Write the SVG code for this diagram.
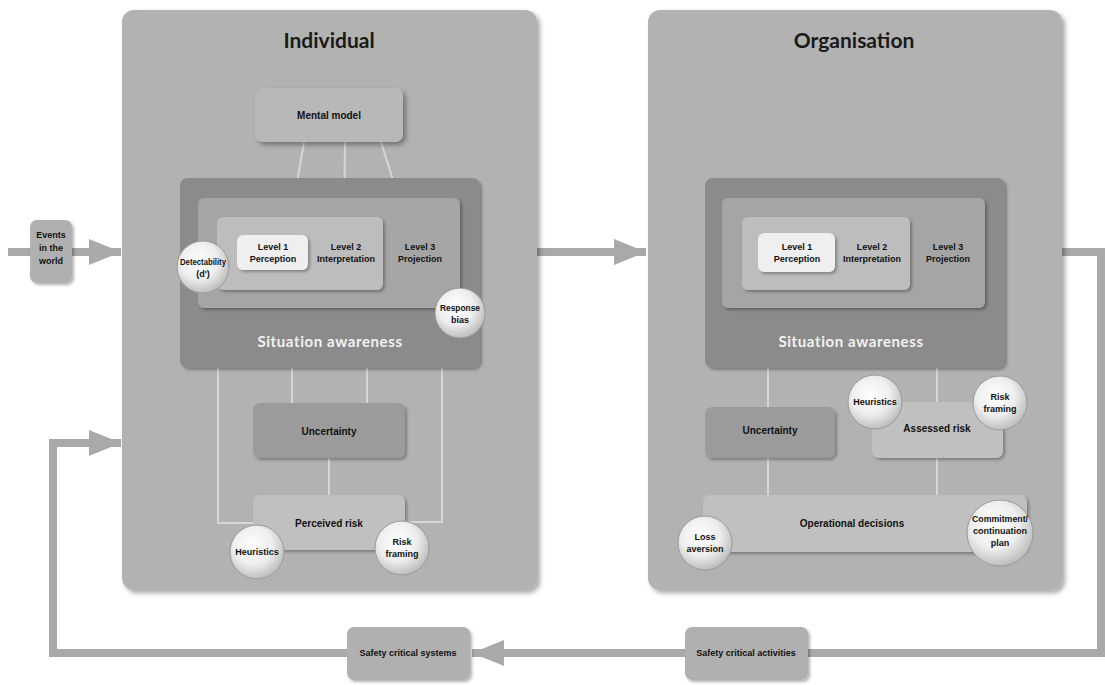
<svg xmlns="http://www.w3.org/2000/svg" width="1105" height="685" viewBox="0 0 1105 685">
  <style>
    .panel { fill: #b2b2b2; }
    .sa { fill: #8b8b8b; }
    .l3 { fill: #a5a5a5; }
    .l2 { fill: #bdbdbd; }
    .l1 { fill: #efefef; }
    .dark { fill: #9b9b9b; }
    .light { fill: #c0c0c0; }
    .box { fill: #b0b0b0; }
    .title { font-family: "Lato", "DejaVu Sans", sans-serif; font-weight: bold; font-size: 21px; fill: #1a1a1a; text-anchor: middle; }
    .salabel { font-family: "Lato", "DejaVu Sans", sans-serif; font-weight: bold; font-size: 15px; fill: #f2f2f2; text-anchor: middle; letter-spacing: 0.6px; }
    .lbl { font-family: "Liberation Sans Narrow", "Liberation Sans", sans-serif; font-weight: bold; font-size: 10px; fill: #111; text-anchor: middle; }
    .sm { font-family: "Liberation Sans Narrow", "Liberation Sans", sans-serif; font-weight: bold; font-size: 9px; fill: #111; text-anchor: middle; }
    .thin { stroke: #d6d6d6; stroke-width: 2; fill: none; }
    .flow { stroke: #a9a9a9; stroke-width: 8; fill: none; }
    .ball { fill: url(#sphere); stroke: #9a9a9a; stroke-width: 1; }
  </style>
  <defs>
    <filter id="shadow" x="-10%" y="-10%" width="125%" height="125%">
      <feDropShadow dx="3" dy="3" stdDeviation="2.5" flood-color="#000" flood-opacity="0.35"/>
    </filter>
    <filter id="softshadow" x="-10%" y="-10%" width="125%" height="130%">
      <feDropShadow dx="2" dy="2" stdDeviation="1.5" flood-color="#000" flood-opacity="0.3"/>
    </filter>
    <radialGradient id="sphere" cx="0.42" cy="0.38" r="0.65">
      <stop offset="0" stop-color="#ffffff"/>
      <stop offset="0.55" stop-color="#eeeeee"/>
      <stop offset="1" stop-color="#b9b9b9"/>
    </radialGradient>
    <marker id="head" markerUnits="userSpaceOnUse" markerWidth="34" markerHeight="28" refX="32" refY="13" orient="auto">
      <path d="M0,0 L32,13 L0,26 Z" fill="#a9a9a9"/>
    </marker>
  </defs>

  <rect width="1105" height="685" fill="#ffffff"/>

  <!-- main flow connectors -->
  <g id="connectors">
    <line class="flow" x1="8" y1="252" x2="121" y2="252" marker-end="url(#head)"/>
    <line class="flow" x1="537" y1="252" x2="646" y2="252" marker-end="url(#head)"/>
    <polyline class="flow" points="1062,252 1101,252 1101,653 808,653"/>
    <line class="flow" x1="686" y1="653" x2="472" y2="653" marker-end="url(#head)"/>
    <polyline class="flow" points="348,653 53,653 53,443 121,443" marker-end="url(#head)"/>
  </g>

  <!-- Individual panel -->
  <g id="individual">
    <rect class="panel" x="122" y="10" width="415" height="580" rx="12" filter="url(#shadow)"/>
    <text class="title" x="329" y="48">Individual</text>
  </g>

  <!-- Organisation panel -->
  <g id="organisation">
    <rect class="panel" x="648" y="10" width="414" height="580" rx="12" filter="url(#shadow)"/>
    <text class="title" x="854" y="48">Organisation</text>
  </g>

  <!-- links inside the Individual panel -->
  <g id="individual-links">
    <line class="thin" x1="304" y1="142" x2="288" y2="235"/>
    <line class="thin" x1="345" y1="142" x2="344" y2="230"/>
    <line class="thin" x1="381" y1="142" x2="411" y2="237"/>
    <polyline class="thin" points="218,367 218,523 255,523"/>
    <line class="thin" x1="292" y1="367" x2="292" y2="403"/>
    <line class="thin" x1="367" y1="367" x2="367" y2="403"/>
    <polyline class="thin" points="442,367 442,522 405,522"/>
    <line class="thin" x1="329" y1="458" x2="329" y2="495"/>
  </g>

  <!-- links inside the Organisation panel -->
  <g id="organisation-links">
    <line class="thin" x1="768" y1="367" x2="768" y2="495"/>
    <line class="thin" x1="937" y1="367" x2="937" y2="495"/>
  </g>

  <g id="mental-model">
    <rect x="255" y="88" width="148" height="54" rx="8" fill="#b8b8b8" filter="url(#shadow)"/>
    <text class="lbl" x="329" y="119">Mental model</text>
  </g>

  <!-- Individual situation awareness -->
  <g id="ind-sa">
    <rect class="sa" x="180" y="178" width="300" height="190" rx="8" filter="url(#softshadow)"/>
    <rect class="l3" x="198" y="198" width="262" height="110" rx="6" filter="url(#softshadow)"/>
    <rect class="l2" x="217" y="217" width="166" height="73" rx="6" filter="url(#softshadow)"/>
    <text class="salabel" x="330" y="347">Situation awareness</text>
  </g>
  <g id="ind-level1">
    <rect class="l1" x="237" y="235" width="71" height="35" rx="6" filter="url(#softshadow)"/>
    <text class="sm" x="273" y="250">Level 1</text>
    <text class="sm" x="273" y="262">Perception</text>
  </g>
  <g id="ind-level2">
    <text class="sm" x="346" y="250">Level 2</text>
    <text class="sm" x="346" y="262">Interpretation</text>
  </g>
  <g id="ind-level3">
    <text class="sm" x="420" y="250">Level 3</text>
    <text class="sm" x="420" y="262">Projection</text>
  </g>
  <g id="detectability">
    <circle class="ball" cx="203" cy="267" r="26"/>
    <text class="sm" x="203" y="265" textLength="46" lengthAdjust="spacingAndGlyphs">Detectability</text>
    <text class="sm" x="203" y="277">(d')</text>
  </g>
  <g id="response-bias">
    <circle class="ball" cx="460" cy="313" r="25"/>
    <text class="sm" x="460" y="311" textLength="40" lengthAdjust="spacingAndGlyphs">Response</text>
    <text class="sm" x="460" y="323">bias</text>
  </g>

  <g id="ind-uncertainty">
    <rect class="dark" x="253" y="403" width="152" height="55" rx="7" filter="url(#softshadow)"/>
    <text class="lbl" x="329" y="435">Uncertainty</text>
  </g>
  <g id="perceived-risk">
    <rect class="light" x="253" y="495" width="152" height="55" rx="7" filter="url(#softshadow)"/>
    <text class="lbl" x="329" y="527">Perceived risk</text>
  </g>
  <g id="ind-heuristics">
    <circle class="ball" cx="257" cy="552" r="27"/>
    <text class="sm" x="257" y="555">Heuristics</text>
  </g>
  <g id="ind-risk-framing">
    <circle class="ball" cx="402" cy="548" r="27"/>
    <text class="sm" x="402" y="545">Risk</text>
    <text class="sm" x="402" y="557">framing</text>
  </g>

  <!-- Organisation situation awareness -->
  <g id="org-sa">
    <rect class="sa" x="705" y="178" width="300" height="190" rx="8" filter="url(#softshadow)"/>
    <rect class="l3" x="722" y="198" width="263" height="110" rx="6" filter="url(#softshadow)"/>
    <rect class="l2" x="742" y="217" width="168" height="73" rx="6" filter="url(#softshadow)"/>
    <text class="salabel" x="851" y="347">Situation awareness</text>
  </g>
  <g id="org-level1">
    <rect class="l1" x="758" y="233" width="77" height="39" rx="6" filter="url(#softshadow)"/>
    <text class="sm" x="797" y="250">Level 1</text>
    <text class="sm" x="797" y="262">Perception</text>
  </g>
  <g id="org-level2">
    <text class="sm" x="872" y="250">Level 2</text>
    <text class="sm" x="872" y="262">Interpretation</text>
  </g>
  <g id="org-level3">
    <text class="sm" x="948" y="250">Level 3</text>
    <text class="sm" x="948" y="262">Projection</text>
  </g>

  <g id="org-uncertainty">
    <rect class="dark" x="705" y="407" width="130" height="51" rx="7" filter="url(#softshadow)"/>
    <text class="lbl" x="770" y="434">Uncertainty</text>
  </g>
  <g id="assessed-risk">
    <rect class="light" x="872" y="402" width="131" height="56" rx="7" filter="url(#softshadow)"/>
    <text class="lbl" x="937" y="432">Assessed risk</text>
  </g>
  <g id="org-heuristics">
    <circle class="ball" cx="875" cy="402" r="27"/>
    <text class="sm" x="875" y="405">Heuristics</text>
  </g>
  <g id="org-risk-framing">
    <circle class="ball" cx="1000" cy="403" r="27"/>
    <text class="sm" x="1000" y="400">Risk</text>
    <text class="sm" x="1000" y="412">framing</text>
  </g>
  <g id="operational-decisions">
    <rect class="light" x="703" y="495" width="324" height="57" rx="7" filter="url(#softshadow)"/>
    <text class="lbl" x="852" y="527">Operational decisions</text>
  </g>
  <g id="loss-aversion">
    <circle class="ball" cx="705" cy="543" r="27"/>
    <text class="sm" x="705" y="540">Loss</text>
    <text class="sm" x="705" y="552">aversion</text>
  </g>
  <g id="commitment">
    <circle class="ball" cx="1000" cy="533" r="33"/>
    <text class="sm" x="1000" y="522" textLength="56" lengthAdjust="spacingAndGlyphs">Commitment/</text>
    <text class="sm" x="1000" y="534" textLength="54" lengthAdjust="spacingAndGlyphs">continuation</text>
    <text class="sm" x="1000" y="546">plan</text>
  </g>

  <!-- outer boxes -->
  <g id="events">
    <rect class="box" x="30" y="220" width="42" height="63" rx="7" filter="url(#softshadow)"/>
    <text class="sm" x="51" y="238">Events</text>
    <text class="sm" x="51" y="251">in the</text>
    <text class="sm" x="51" y="264">world</text>
  </g>
  <g id="safety-systems">
    <rect class="box" x="347" y="627" width="123" height="53" rx="7" filter="url(#softshadow)"/>
    <text class="sm" x="408" y="656">Safety critical systems</text>
  </g>
  <g id="safety-activities">
    <rect class="box" x="685" y="627" width="123" height="53" rx="7" filter="url(#softshadow)"/>
    <text class="sm" x="746" y="656">Safety critical activities</text>
  </g>
</svg>
